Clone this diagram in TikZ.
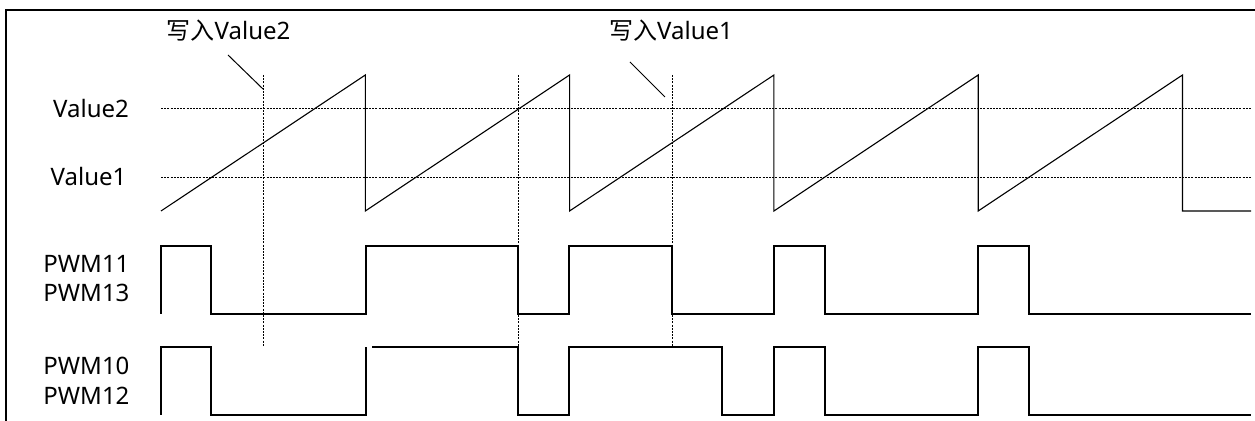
\documentclass[tikz,border=0pt]{standalone}
\usepackage{fontspec}
\setmainfont{Noto Sans}
\newfontfamily\cjk{Noto Sans CJK SC}
\usetikzlibrary{calc, positioning}

\begin{document}
\begin{tikzpicture}[x=0.5pt, y=-0.5pt]
        % Styles
        \tikzset{
          wave/.style={
            line width=0.55pt,
            line join=miter
          },
          level/.style={
            dash pattern=on 1pt off 0.6pt,
            line width=0.5pt
          },
          lbl/.style={
            font=\fontsize{12}{14}\selectfont,
            inner sep=0pt
          },
          leader/.style={line width=0.5pt}
        }
        \useasboundingbox (0,0) rectangle (1255,421);

        % frame, cut off at right and bottom
        \draw[line width=1pt] (6,421) -- (6,10) -- (1255,10);

        % compare levels
        \node[lbl] (val2) at (91,108.5) {Value2};
        \node[lbl] (val1) at (88.5,177) {Value1};
        \coordinate (val2-l) at (161,108.7);
        \coordinate (val2-r) at (1251,108.7);
        \coordinate (val1-l) at (161,177.3);
        \coordinate (val1-r) at (1251,177.3);
        \draw[level] (val2-l) -- (val2-r);
        \draw[level] (val1-l) -- (val1-r);

        % counter sawtooth
        \draw[wave] (161,211)
          \foreach \i in {1,...,5} { -- ++(204.3,-136) -- ++(0,136) }
          -- (1251,211);

        % write markers
        \coordinate (mk1-t) at (263,75);   \coordinate (mk1-b) at (263,346);
        \coordinate (mk2-t) at (518,75);   \coordinate (mk2-b) at (518,346);
        \coordinate (mk3-t) at (672,75);   \coordinate (mk3-b) at (672,346);
        \draw[level] (mk1-t) -- (mk1-b);
        \draw[level] (mk2-t) -- (mk2-b);
        \draw[level] (mk3-t) -- (mk3-b);

        % write labels with leaders
        \node[lbl] (wr2) at (228.5,31) {{\cjk 写入}Value2};
        \node[lbl] (wr1) at (671,31) {{\cjk 写入}Value1};
        \coordinate (ld2-a) at (228,55);  \coordinate (ld2-b) at (263,89);
        \coordinate (ld1-a) at (630,62);  \coordinate (ld1-b) at (665,97);
        \draw[leader] (ld2-a) -- (ld2-b);
        \draw[leader] (ld1-a) -- (ld1-b);

        % PWM11 / PWM13
        \node[lbl, anchor=west] (pwm11) at (43,264) {PWM11};
        \node[lbl, anchor=west] (pwm13) at (43,292.5) {PWM13};
        \draw[wave] (161,314) -- (161,246) -- (211,246) -- (211,314)
          -- (366,314) -- (366,246) -- (518,246) -- (518,314)
          -- (569,314) -- (569,246) -- (672,246) -- (672,314)
          -- (774,314) -- (774,246) -- (825,246) -- (825,314)
          -- (978,314) -- (978,246) -- (1029,246) -- (1029,314)
          -- (1251,314);

        % PWM10 / PWM12
        \node[lbl, anchor=west] (pwm10) at (43,366) {PWM10};
        \node[lbl, anchor=west] (pwm12) at (43,396) {PWM12};
        \draw[wave] (161,415) -- (161,347) -- (211,347) -- (211,415)
          -- (366,415) -- (366,347);
        \draw[wave] (372,347) -- (518,347) -- (518,415)
          -- (569,415) -- (569,347) -- (722,347) -- (722,415)
          -- (774,415) -- (774,347) -- (825,347) -- (825,415)
          -- (978,415) -- (978,347) -- (1029,347) -- (1029,415)
          -- (1251,415);
\end{tikzpicture}
\end{document}
